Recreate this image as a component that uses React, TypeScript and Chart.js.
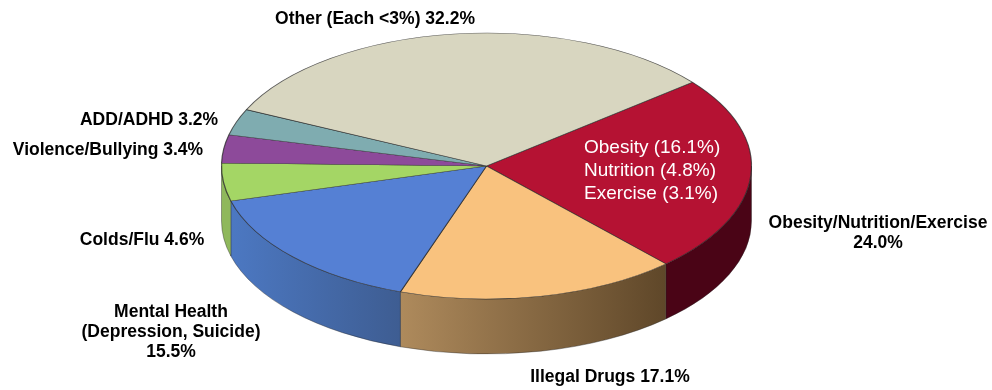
import React, { useEffect, useRef } from "react";
import { Chart, registerables } from "chart.js";

Chart.register(...registerables);

const categories = ["Obesity/Nutrition/Exercise", "Illegal Drugs", "Mental Health (Depression, Suicide)", "Colds/Flu", "Violence/Bullying", "ADD/ADHD", "Other (Each <3%)"];
const shares = [24.0, 17.1, 15.5, 4.6, 3.4, 3.2, 32.2];
const topColors = ["#b51233", "#f9c27e", "#5580d4", "#a4d665", "#8d4a9a", "#7facb0", "#d8d6c0"];
const wallLeft = ["#4a0416", "#ae8a5c", "#4c78c2", "#8fb85c", "#6f3a7a", "#668a8d", "#a8a695"];
const wallRight = ["#4a0416", "#5f4729", "#3e5d92", "#8fb85c", "#6f3a7a", "#668a8d", "#a8a695"];

type Label = { lines: string[]; x: number; y: number };
const outerLabels: Label[] = [
  { lines: ["Other (Each <3%) 32.2%"], x: 375, y: 19 },
  { lines: ["ADD/ADHD 3.2%"], x: 149, y: 120 },
  { lines: ["Violence/Bullying 3.4%"], x: 108, y: 150 },
  { lines: ["Colds/Flu 4.6%"], x: 142, y: 240 },
  { lines: ["Mental Health", "(Depression, Suicide)", "15.5%"], x: 171, y: 312 },
  { lines: ["Illegal Drugs 17.1%"], x: 610, y: 377 },
  { lines: ["Obesity/Nutrition/Exercise", "24.0%"], x: 878, y: 223 },
];
const innerLines = ["Obesity (16.1%)", "Nutrition (4.8%)", "Exercise (3.1%)"];

const RX = 265;
const RY = 133;
const DEPTH = 55;

const pie3d = {
  id: "pie3d",
  beforeDatasetsDraw(chart: any) {
    const ctx = chart.ctx;
    const arcs = chart.getDatasetMeta(0).data;
    const cx = arcs[0].x;
    const cy = arcs[0].y;
    const r = arcs[0].outerRadius;
    arcs.forEach((arc: any, i: number) => {
      const a0 = Math.max(arc.startAngle, 0);
      const a1 = Math.min(arc.endAngle, Math.PI);
      if (a1 <= a0) return;
      const x0 = cx + RX * Math.cos(a0);
      const x1 = cx + RX * Math.cos(a1);
      const g = ctx.createLinearGradient(Math.min(x0, x1), 0, Math.max(x0, x1), 0);
      g.addColorStop(0, wallLeft[i]);
      g.addColorStop(1, wallRight[i]);
      ctx.beginPath();
      ctx.ellipse(cx, cy, RX, RY, 0, a0, a1);
      ctx.ellipse(cx, cy + DEPTH, RX, RY, 0, a1, a0, true);
      ctx.closePath();
      ctx.fillStyle = g;
      ctx.fill();
      ctx.strokeStyle = "rgba(40,40,40,0.5)";
      ctx.lineWidth = 0.8;
      ctx.stroke();
    });
    ctx.save();
    ctx.translate(cx, cy);
    ctx.scale(RX / r, RY / r);
    ctx.translate(-cx, -cy);
  },
  afterDatasetsDraw(chart: any) {
    chart.ctx.restore();
  },
  afterDraw(chart: any) {
    const ctx = chart.ctx;
    ctx.save();
    ctx.textBaseline = "middle";
    ctx.textAlign = "center";
    ctx.fillStyle = "#000000";
    ctx.font = "bold 17.5px 'Liberation Sans'";
    outerLabels.forEach((l) => {
      l.lines.forEach((t, j) => ctx.fillText(t, l.x, l.y + j * 20));
    });
    ctx.textAlign = "left";
    ctx.fillStyle = "#ffffff";
    ctx.font = "19px 'Liberation Sans'";
    innerLines.forEach((t, j) => ctx.fillText(t, 584, 148 + j * 23));
    ctx.restore();
  },
};

export default function App() {
  const ref = useRef<HTMLCanvasElement>(null);
  useEffect(() => {
    const chart = new Chart(ref.current as HTMLCanvasElement, {
      type: "pie",
      data: {
        labels: categories,
        datasets: [
          {
            data: shares,
            backgroundColor: topColors,
            borderColor: "rgba(40,40,40,0.75)",
            borderWidth: 0.6,
          },
        ],
      },
      options: {
        responsive: false,
        animation: false,
        rotation: 51,
        layout: { padding: { top: 33, bottom: 91, left: 0, right: 19 } },
        plugins: { legend: { display: false }, tooltip: { enabled: false } },
      },
      plugins: [pie3d],
    } as any);
    return () => chart.destroy();
  }, []);
  return (
    <div style={{ position: "absolute", left: 0, top: 0, width: 992, height: 390 }}>
      <canvas ref={ref} width={992} height={390} style={{ display: "block" }} />
    </div>
  );
}
